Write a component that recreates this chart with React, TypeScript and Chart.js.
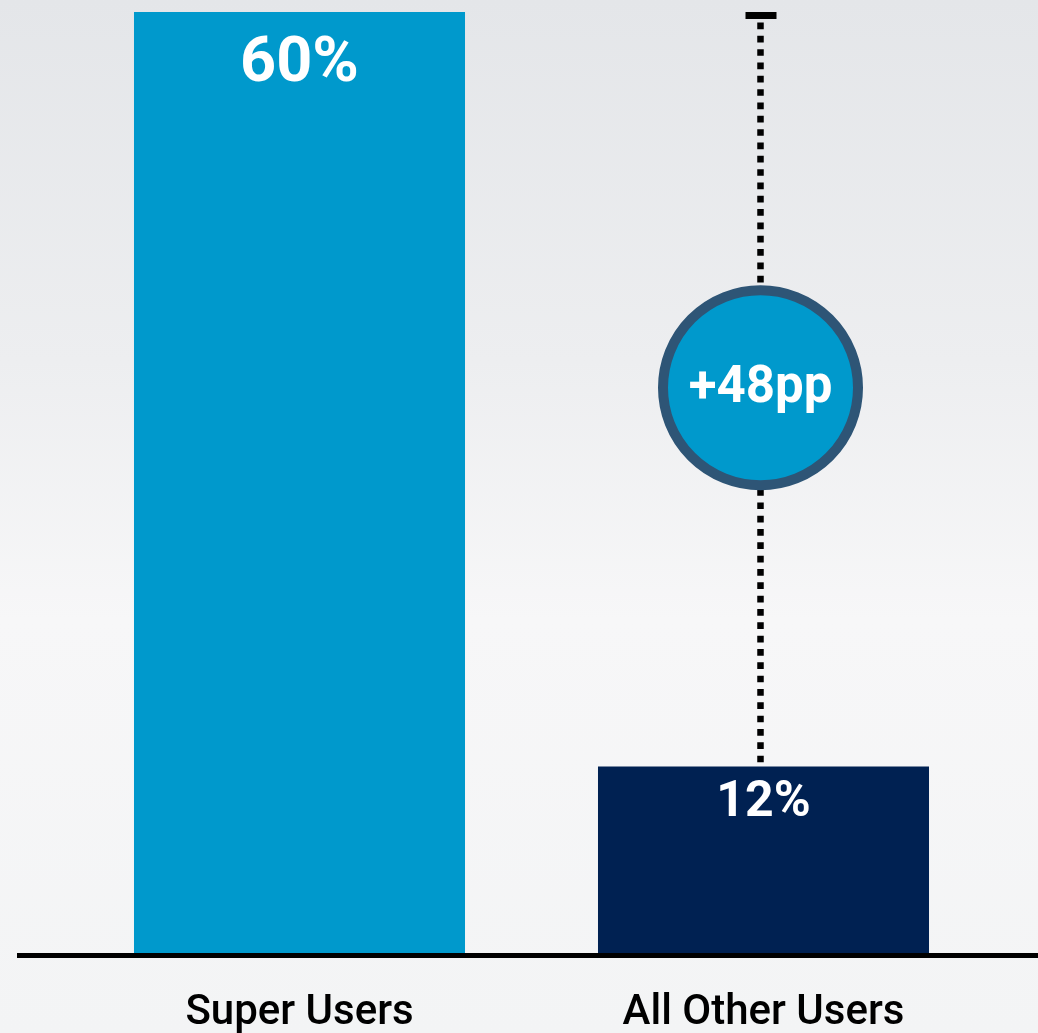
import React, { useEffect, useRef } from "react";
import { Chart, registerables } from "chart.js";

Chart.register(...registerables);

const categories = ["Super Users", "All Other Users"];
const values = [60, 12];
const valueLabels = ["60%", "12%"];
const barColors = ["#0099cc", "#002152"];

const W = 1038;
const H = 1033;

const backgroundPlugin = {
  id: "bgPlugin",
  beforeDraw(chart: any) {
    const { ctx } = chart;
    ctx.save();
    const g = ctx.createLinearGradient(0, 0, 0, H);
    g.addColorStop(0, "#e4e6e9");
    g.addColorStop(0.35, "#edeef0");
    g.addColorStop(0.6, "#f7f7f8");
    g.addColorStop(1, "#f3f4f5");
    ctx.fillStyle = g;
    ctx.fillRect(0, 0, W, H);
    ctx.restore();
  },
};

const overlayPlugin = {
  id: "overlayPlugin",
  afterDatasetsDraw(chart: any) {
    const { ctx, chartArea } = chart;
    const yScale = chart.scales.y;
    const meta = chart.getDatasetMeta(0);
    ctx.save();

    // baseline
    ctx.fillStyle = "#000000";
    ctx.fillRect(17, chartArea.bottom - 2, W - 17, 5);

    // value labels inside bars
    const fontSizes = [63, 50];
    const offsets = [53, 37];
    meta.data.forEach((bar: any, i: number) => {
      ctx.fillStyle = "#ffffff";
      ctx.font = `bold ${fontSizes[i]}px Roboto`;
      ctx.textAlign = "center";
      ctx.textBaseline = "middle";
      ctx.fillText(valueLabels[i], bar.x, bar.y + offsets[i]);
    });

    // difference marker on second category
    const bar2 = meta.data[1];
    const x = bar2.x - 3;
    const yTop = yScale.getPixelForValue(values[0]);
    const yBot = yScale.getPixelForValue(values[1]);

    // cap
    ctx.fillStyle = "#000000";
    ctx.fillRect(x - 15, yTop, 31, 7);

    // dotted line
    ctx.strokeStyle = "#000000";
    ctx.lineWidth = 6.5;
    ctx.setLineDash([6.7, 6.63]);
    ctx.beginPath();
    ctx.moveTo(x, yTop + 10.5);
    ctx.lineTo(x, yBot - 2);
    ctx.stroke();
    ctx.setLineDash([]);

    // circle
    const cy = (yTop + yBot) / 2 - 1.5;
    ctx.beginPath();
    ctx.arc(x, cy, 97.5, 0, Math.PI * 2);
    ctx.fillStyle = "#0099cc";
    ctx.fill();
    ctx.lineWidth = 10;
    ctx.strokeStyle = "#2e5576";
    ctx.stroke();

    const diff = values[0] - values[1];
    ctx.fillStyle = "#ffffff";
    ctx.font = "bold 51px Roboto";
    ctx.textAlign = "center";
    ctx.textBaseline = "middle";
    ctx.fillText(`+${diff}pp`, x, cy + 2);

    ctx.restore();
  },
};

export default function App() {
  const ref = useRef<HTMLCanvasElement | null>(null);

  useEffect(() => {
    if (!ref.current) return;
    const chart = new Chart(ref.current, {
      type: "bar",
      data: {
        labels: categories,
        datasets: [
          {
            data: values,
            backgroundColor: barColors,
            borderWidth: 0,
            categoryPercentage: 1,
            barPercentage: 0.7134,
          },
        ],
      },
      options: {
        responsive: false,
        animation: false,
        events: [],
        layout: {
          padding: { left: 67.5, right: 42.5, top: 12, bottom: 0 },
        },
        plugins: {
          legend: { display: false },
          tooltip: { enabled: false },
        },
        scales: {
          x: {
            grid: { display: false, drawTicks: false },
            border: { display: false },
            afterFit: (scale: any) => {
              scale.height = 78;
            },
            ticks: {
              color: "#000000",
              font: { family: "Roboto", size: 42, weight: "500" },
              padding: 33,
              maxRotation: 0,
            },
          },
          y: {
            display: false,
            min: 0,
            max: 60,
          },
        },
      },
      plugins: [backgroundPlugin, overlayPlugin],
    });
    return () => chart.destroy();
  }, []);

  return (
    <div style={{ position: "fixed", left: 0, top: 0, width: W, height: H }}>
      <canvas ref={ref} width={W} height={H} style={{ display: "block" }} />
    </div>
  );
}
